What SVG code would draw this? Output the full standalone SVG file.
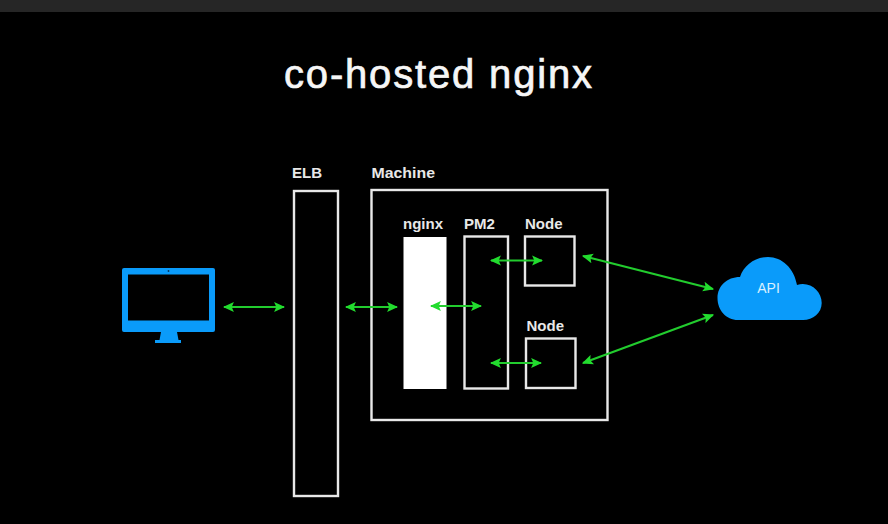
<svg xmlns="http://www.w3.org/2000/svg" width="888" height="524" viewBox="0 0 888 524">
<style>
.box{fill:none;stroke:#e8e8e8;stroke-width:2.4}
.lbl{font-family:"Liberation Sans",Arial,sans-serif;font-size:15px;font-weight:700;fill:#e8e8e8}
.blue{fill:#0a9bfa}
.link{stroke:#22cc2e;stroke-width:2.2;fill:none;marker-start:url(#ah);marker-end:url(#ah)}
</style>
<defs>
<marker id="ah" viewBox="0 0 10 10" refX="9" refY="5" markerUnits="userSpaceOnUse" markerWidth="11" markerHeight="11" orient="auto-start-reverse"><path d="M0 0.5L10 5L0 9.5L2 5Z" fill="#22dc2e"/></marker>
</defs>
<rect width="888" height="524" fill="#000"/>
<rect id="topbar" width="888" height="12" fill="#262626"/>
<text id="title" x="284" y="87.500" textLength="308" lengthAdjust="spacing" font-family="'Liberation Sans',Arial,sans-serif" font-size="40" fill="#f6f6f6" stroke="#f6f6f6" stroke-width="0.7">co-hosted nginx</text>
<g id="client">
<path class="blue" fill-rule="evenodd" d="M124 268H213a2 2 0 0 1 2 2V330a2 2 0 0 1-2 2H124a2 2 0 0 1-2-2V270a2 2 0 0 1 2-2ZM128 274.500V320.500H209V274.500Z"/>
<path class="blue" d="M161 332H177L178.500 340H181V343H155V340H159.500Z"/>
<circle cx="168.500" cy="271" r="0.9" fill="#04345a"/>
</g>
<g id="elb">
<rect class="box" x="294" y="191" width="44" height="305"/>
<text class="lbl" x="292" y="178">ELB</text>
</g>
<g id="machine">
<rect class="box" x="371.500" y="190" width="236" height="230"/>
<text class="lbl" x="371.500" y="178" textLength="63.500" lengthAdjust="spacingAndGlyphs">Machine</text>
</g>
<g id="nginx">
<rect x="403.500" y="237" width="43" height="152" fill="#fff"/>
<text class="lbl" x="403" y="229">nginx</text>
</g>
<g id="pm2">
<rect class="box" x="464.500" y="236.500" width="43.500" height="152"/>
<text class="lbl" x="464" y="229">PM2</text>
</g>
<g id="node1">
<rect class="box" x="525" y="236.500" width="49.500" height="49"/>
<text class="lbl" x="525" y="229">Node</text>
</g>
<g id="node2">
<rect class="box" x="526" y="338.500" width="49.500" height="49.500"/>
<text class="lbl" x="526.500" y="331">Node</text>
</g>
<g id="api">
<path class="blue" d="M738 320C726 320 717.500 310 717.500 298C717.500 286 727 277 740 277C744 265 755 257 768 257C782 257 794 268 797 285C810 281 821.700 291 821.700 303C821.700 313 813 320 803 320Z"/>
<text x="768.500" y="293" text-anchor="middle" font-family="'Liberation Sans',Arial,sans-serif" font-size="14" fill="#d8f0ff">API</text>
</g>
<g id="connectors">
<line class="link" x1="224" y1="307" x2="284" y2="307"/>
<line class="link" x1="346" y1="307" x2="397" y2="307"/>
<line class="link" x1="431" y1="306" x2="481" y2="306"/>
<line class="link" x1="491" y1="260.500" x2="542" y2="260.500"/>
<line class="link" x1="491" y1="363" x2="541" y2="363"/>
<line class="link" x1="583" y1="256" x2="713" y2="289"/>
<line class="link" x1="583" y1="363" x2="713" y2="315"/>
</g>
</svg>
